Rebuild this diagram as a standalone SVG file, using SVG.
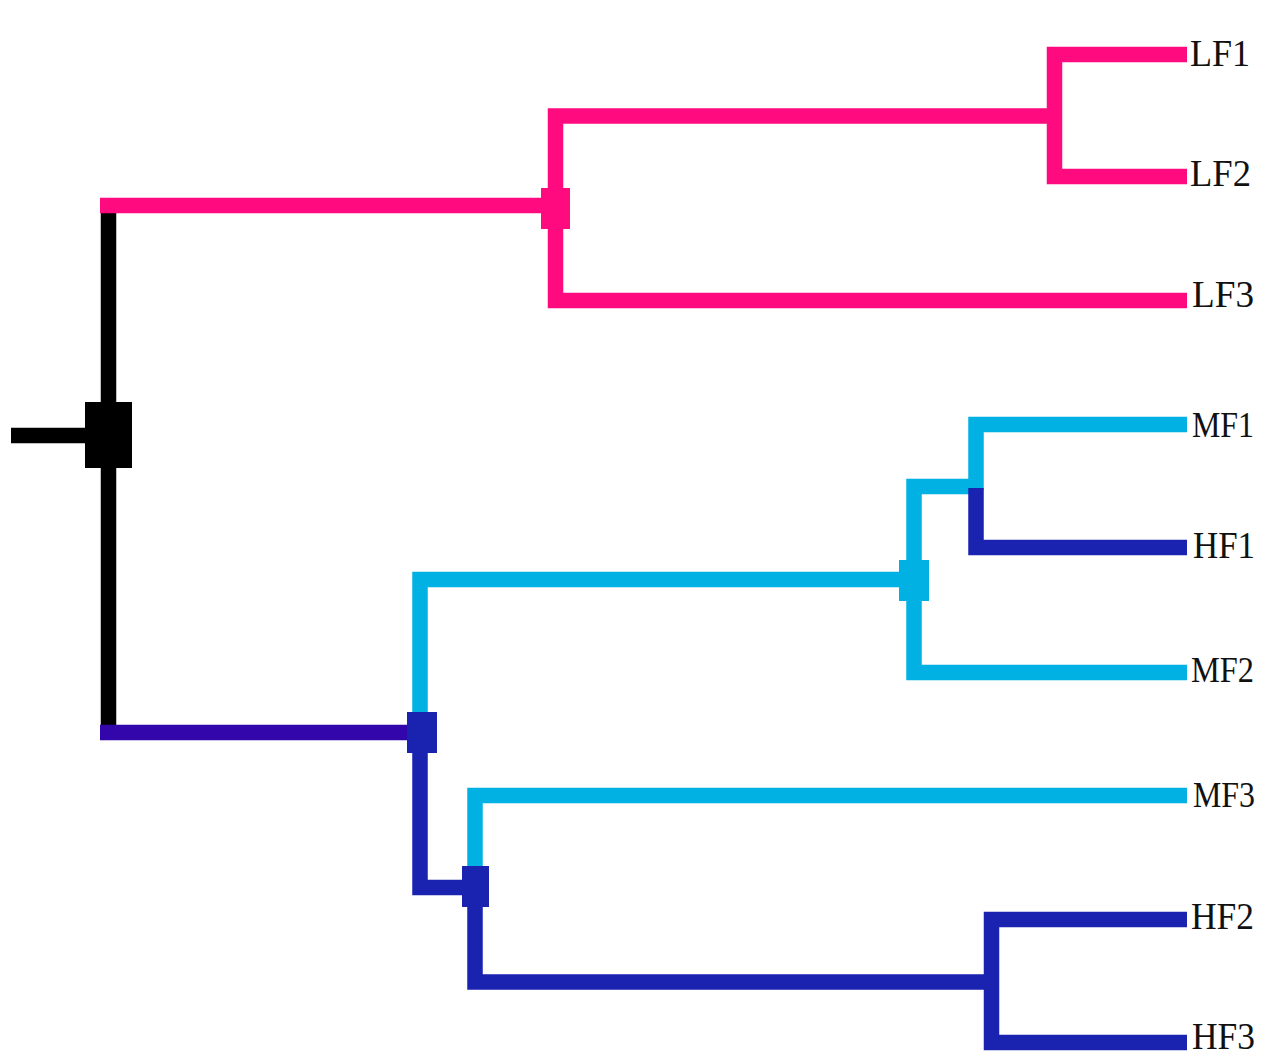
<svg xmlns="http://www.w3.org/2000/svg" width="1263" height="1057" viewBox="0 0 1263 1057">
  <style>
    .br { fill: none; stroke-width: 15.5; stroke-linejoin: miter; stroke-linecap: butt; }
    .pink { stroke: #ff0a7f; }
    .black { stroke: #000000; }
    .purple { stroke: #3206aa; }
    .light { stroke: #02b1e4; }
    .dark { stroke: #1a22b0; }
    .lbl { font-family: "Liberation Serif", "Times New Roman", serif; font-size: 38px; fill: #111111; }
    .lbl.m { font-size: 36px; }
  </style>
  <rect width="1263" height="1057" fill="#ffffff"/>

  <!-- branches -->
  <g id="connectors">
    <!-- root stub and trunk -->
    <path class="br black" d="M11,435.5 H100"/>
    <path class="br black" d="M108.5,212 V726"/>
    <path class="br pink" d="M100,205.5 H556"/>
    <path class="br purple" d="M100,732.5 H420"/>

    <!-- LF clade -->
    <path class="br pink" d="M1047,116 H555.5 V300.5 H1187"/>
    <path class="br pink" d="M1187,54.5 H1054.5 V176.5 H1187"/>

    <!-- MF / HF clade -->
    <path class="br light" d="M420,726 V579.5 H907"/>
    <path class="br light" d="M976,486.5 H914 V672.5 H1187"/>
    <path class="br light" d="M1187,424.5 H976 V490"/>
    <path class="br dark" d="M976,488 V547.5 H1187"/>

    <path class="br dark" d="M420,740 V887.5 H470"/>
    <path class="br light" d="M475,872 V795.5 H1187"/>
    <path class="br dark" d="M475,900 V982 H992"/>
    <path class="br dark" d="M1187,919.5 H991.5 V1042.5 H1187"/>
  </g>

  <!-- internal nodes -->
  <g id="node-root"><rect x="85" y="402" width="47" height="66" fill="#000000"/></g>
  <g id="node-lf"><rect x="541" y="188" width="29" height="41" fill="#ff0a7f"/></g>
  <g id="node-mf"><rect x="899" y="560" width="30" height="41" fill="#02b1e4"/></g>
  <g id="node-mh"><rect x="407" y="712" width="30" height="41" fill="#1a22b0"/></g>
  <g id="node-mh2"><rect x="462" y="866" width="27" height="41" fill="#1a22b0"/></g>

  <!-- leaves -->
  <g id="leaf-LF1"><text class="lbl" x="1190" y="66" textLength="60" lengthAdjust="spacingAndGlyphs">LF1</text></g>
  <g id="leaf-LF2"><text class="lbl" x="1190" y="186" textLength="61" lengthAdjust="spacingAndGlyphs">LF2</text></g>
  <g id="leaf-LF3"><text class="lbl" x="1192" y="307" textLength="62" lengthAdjust="spacingAndGlyphs">LF3</text></g>
  <g id="leaf-MF1"><text class="lbl m" x="1192" y="437" textLength="62" lengthAdjust="spacingAndGlyphs">MF1</text></g>
  <g id="leaf-HF1"><text class="lbl" x="1193" y="558" textLength="62" lengthAdjust="spacingAndGlyphs">HF1</text></g>
  <g id="leaf-MF2"><text class="lbl m" x="1191" y="682" textLength="63" lengthAdjust="spacingAndGlyphs">MF2</text></g>
  <g id="leaf-MF3"><text class="lbl m" x="1193" y="807" textLength="62" lengthAdjust="spacingAndGlyphs">MF3</text></g>
  <g id="leaf-HF2"><text class="lbl" x="1191" y="929" textLength="63" lengthAdjust="spacingAndGlyphs">HF2</text></g>
  <g id="leaf-HF3"><text class="lbl" x="1192" y="1049" textLength="63" lengthAdjust="spacingAndGlyphs">HF3</text></g>
</svg>
